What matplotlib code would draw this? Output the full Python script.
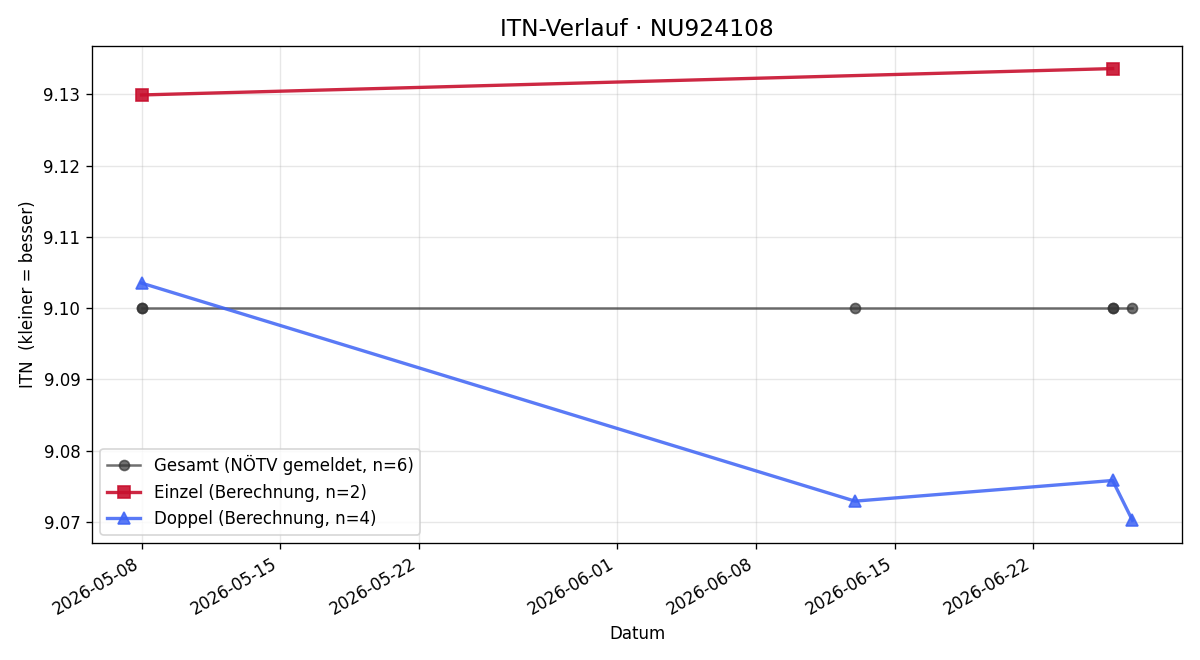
import matplotlib
matplotlib.use("Agg")
import matplotlib.pyplot as plt
import matplotlib.dates as mdates
import pandas as pd

gesamt_dates = ["2026-05-08", "2026-05-08", "2026-06-13", "2026-06-26", "2026-06-26", "2026-06-27"]
gesamt_vals = [9.10, 9.10, 9.10, 9.10, 9.10, 9.10]
einzel_dates = ["2026-05-08", "2026-06-26"]
einzel_vals = [9.1299, 9.1336]
doppel_dates = ["2026-05-08", "2026-06-13", "2026-06-26", "2026-06-27"]
doppel_vals = [9.1035, 9.0729, 9.0758, 9.0702]

fig, ax = plt.subplots(figsize=(10, 5.5), dpi=120)
ax.plot(pd.to_datetime(gesamt_dates), gesamt_vals, marker="o", color="#333333", alpha=0.7,
        lw=1.5, ms=6, label="Gesamt (NÖTV gemeldet, n=6)")
ax.plot(pd.to_datetime(einzel_dates), einzel_vals, marker="s", color="#C8102E", alpha=0.9,
        lw=2, ms=7, label="Einzel (Berechnung, n=2)")
ax.plot(pd.to_datetime(doppel_dates), doppel_vals, marker="^", color="#3D63F5", alpha=0.85,
        lw=2, ms=7, label="Doppel (Berechnung, n=4)")

ax.set_title("ITN-Verlauf · NU924108", fontsize=14)
ax.set_xlabel("Datum")
ax.set_ylabel("ITN  (kleiner = besser)")
ax.grid(True, alpha=0.3)
ax.legend(loc="lower left")
ax.xaxis.set_major_formatter(mdates.DateFormatter("%Y-%m-%d"))
fig.autofmt_xdate()
fig.subplots_adjust(left=0.0767, right=0.985, top=0.9303, bottom=0.1773)
fig.savefig("out.png")
